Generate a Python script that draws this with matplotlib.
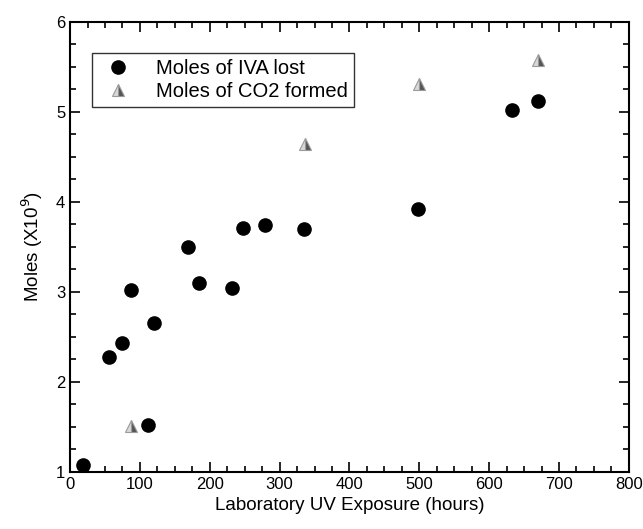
import numpy as np
import matplotlib
matplotlib.use("Agg")
import matplotlib.pyplot as plt
from matplotlib.ticker import MultipleLocator

plt.rcParams['font.family'] = ['Liberation Sans', 'DejaVu Sans']

# Moles of IVA lost
iva_hours = [18, 55, 74, 87, 111, 120, 169, 184, 232, 248, 279, 335, 498, 632, 670]
iva_moles = [1.08, 2.28, 2.43, 3.02, 1.52, 2.65, 3.50, 3.10, 3.04, 3.71, 3.74, 3.70, 3.92, 5.02, 5.12]

# Moles of CO2 formed
co2_hours = [87, 336, 500, 670]
co2_moles = [1.51, 4.64, 5.31, 5.57]

fig = plt.figure(figsize=(6.43, 5.29), dpi=100)
ax = fig.add_axes([0.109, 0.108, 0.869, 0.851])

ax.plot(iva_hours, iva_moles, 'o', color='black', markersize=9.5,
        linestyle='none', clip_on=False, label='Moles of IVA lost')
ax.plot(co2_hours, co2_moles, '^', linestyle='none', markersize=8,
        fillstyle='right', markerfacecolor='#555555', markerfacecoloralt='#d8d8d8',
        markeredgecolor='#9a9a9a', markeredgewidth=0.8, clip_on=False,
        label='Moles of CO2 formed')

ax.set_xlim(0, 800)
ax.set_ylim(1, 6)
ax.xaxis.set_major_locator(MultipleLocator(100))
ax.xaxis.set_minor_locator(MultipleLocator(25))
ax.yaxis.set_major_locator(MultipleLocator(1))
ax.yaxis.set_minor_locator(MultipleLocator(0.25))
ax.tick_params(which='both', direction='in', top=True, right=True, width=1.2, labelsize=12)
ax.tick_params(which='major', length=7)
ax.tick_params(which='minor', length=4)
for s in ax.spines.values():
    s.set_linewidth(1.5)

ax.set_xlabel('Laboratory UV Exposure (hours)', fontsize=13.5, labelpad=4)
ax.set_ylabel('Moles (X10$^9$)', fontsize=13.5, labelpad=8)

leg = ax.legend(loc='upper left', bbox_to_anchor=(0.039, 0.93), fontsize=14.5,
                frameon=True, fancybox=False, edgecolor='black', handletextpad=0.9,
                borderpad=0.3, labelspacing=0.2, handlelength=2.0, borderaxespad=0)
leg.get_frame().set_linewidth(1.0)

fig.savefig('out.png', dpi=100)
